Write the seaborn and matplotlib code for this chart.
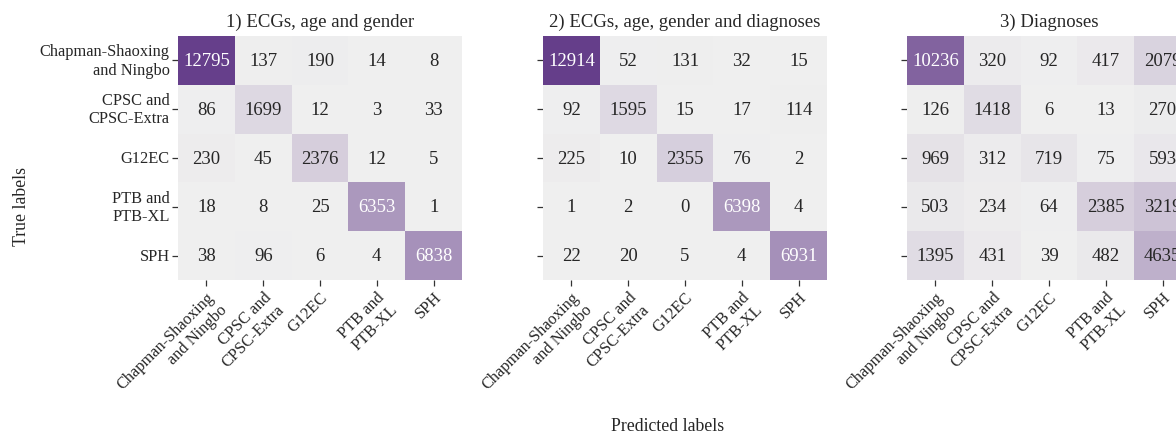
import numpy as np
import matplotlib
matplotlib.use("Agg")
import matplotlib.pyplot as plt
import seaborn as sns

# Dataset names (rows = true source, columns = predicted source)
datasets = ["Chapman-Shaoxing\nand Ningbo", "CPSC and\nCPSC-Extra", "G12EC",
            "PTB and\nPTB-XL", "SPH"]

# Panel titles: which inputs the classifier used
panel_titles = ["1) ECGs, age and gender",
                "2) ECGs, age, gender and diagnoses",
                "3) Diagnoses"]

# Confusion matrices
cm_ecg_age_gender = [
    [12795, 137, 190, 14, 8],
    [86, 1699, 12, 3, 33],
    [230, 45, 2376, 12, 5],
    [18, 8, 25, 6353, 1],
    [38, 96, 6, 4, 6838],
]
cm_ecg_age_gender_dx = [
    [12914, 52, 131, 32, 15],
    [92, 1595, 15, 17, 114],
    [225, 10, 2355, 76, 2],
    [1, 2, 0, 6398, 4],
    [22, 20, 5, 4, 6931],
]
cm_dx_only = [
    [10236, 320, 92, 417, 2079],
    [126, 1418, 6, 13, 270],
    [969, 312, 719, 75, 593],
    [503, 234, 64, 2385, 3219],
    [1395, 431, 39, 482, 4635],
]

matrices = [cm_ecg_age_gender, cm_ecg_age_gender_dx, cm_dx_only]

sns.set_theme(style="white")
plt.rcParams["font.family"] = ["Liberation Serif", "DejaVu Serif"]

# One shared colour scale for all three panels
cmap = sns.blend_palette(["#efefef", "#653e8a"], as_cmap=True)
vmax = max(np.max(m) for m in matrices)

W, H = 1176, 439
fig = plt.figure(figsize=(W / 100, H / 100), dpi=100)

lefts = [178, 543, 907]
ax_w, ax_top, ax_h = 284, 37, 244

for i, (mat, title, left) in enumerate(zip(matrices, panel_titles, lefts)):
    ax = fig.add_axes([left / W, 1 - (ax_top + ax_h) / H, ax_w / W, ax_h / H])
    sns.heatmap(np.array(mat), ax=ax, cmap=cmap, vmin=0, vmax=vmax,
                annot=True, fmt="d", cbar=False,
                annot_kws={"fontsize": 13.5},
                xticklabels=datasets,
                yticklabels=datasets if i == 0 else False)
    ax.set_title(title, fontsize=13.5, pad=7)
    ax.tick_params(axis="both", which="both", length=4, width=0.9,
                   color="#333333", labelsize=11.8, pad=2,
                   bottom=True, left=True)
    plt.setp(ax.get_xticklabels(), rotation=45, ha="right",
             rotation_mode="anchor")
    if i == 0:
        plt.setp(ax.get_yticklabels(), rotation=0, ha="right", va="center")
    else:
        ax.set_yticks(np.arange(len(datasets)) + 0.5)
        ax.set_yticklabels([])
    ax.set_xlabel("")
    ax.set_ylabel("")

fig.text(22 / W, 1 - 207 / H, "True labels", rotation=90,
         ha="center", va="center", fontsize=12.8)
fig.text(668 / W, 1 - 427 / H, "Predicted labels",
         ha="center", va="center", fontsize=12.8)

fig.savefig("out.png", dpi=100, facecolor="white")
